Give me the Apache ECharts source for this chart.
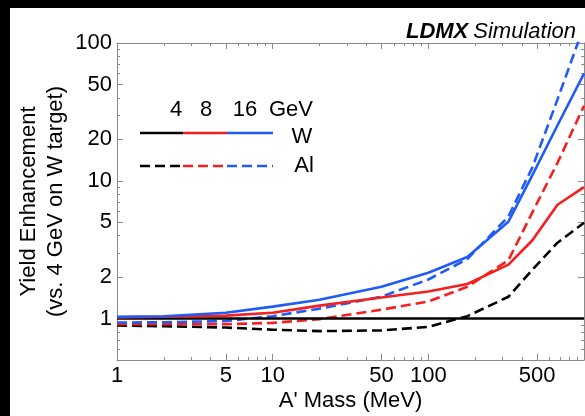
<!DOCTYPE html>
<html>
<head>
<meta charset="utf-8">
<script src="https://cdn.jsdelivr.net/npm/echarts@6/dist/echarts.min.js"></script>
<style>
  html, body { margin: 0; padding: 0; background: #000; width: 585px; height: 416px; overflow: hidden; }
  #chart { position: absolute; left: 10px; top: 8px; width: 575px; height: 408px; background: #fff; }
</style>
</head>
<body>
<div id="chart"></div>
<script>
// ---- data (A' mass in MeV, yield enhancement) ----
const masses   = [1, 2, 5, 10, 20, 50, 100, 178, 327, 466, 676, 1000];
const w4GeV    = [1, 1, 1, 1, 1, 1, 1, 1, 1, 1, 1, 1];
const w8GeV    = [1.02, 1.03, 1.05, 1.10, 1.24, 1.42, 1.57, 1.78, 2.46, 3.7, 6.7, 9.0];
const w16GeV   = [1.03, 1.04, 1.10, 1.22, 1.37, 1.70, 2.15, 2.8, 5.05, 11.0, 25.3, 60];
const al4GeV   = [0.89, 0.88, 0.86, 0.83, 0.81, 0.82, 0.87, 1.04, 1.44, 2.26, 3.55, 4.96];
const al8GeV   = [0.91, 0.91, 0.91, 0.93, 0.99, 1.16, 1.33, 1.7, 2.65, 5.9, 13.5, 35];
const al16GeV  = [0.935, 0.94, 0.96, 1.04, 1.18, 1.44, 1.92, 2.7, 5.5, 12.5, 39, 133];

const xLabelValues = [1, 5, 10, 50, 100, 500];
const xMajorTicks  = [5, 10, 50, 100, 500];
const xMinorTicks  = [2, 3, 4, 6, 7, 8, 9, 20, 30, 40, 60, 70, 80, 90, 200, 300, 400, 600, 700, 800, 900];
const yLabelValues = [1, 2, 5, 10, 20, 50, 100];
const yMajorTicks  = [1, 2, 5, 10, 20, 50];
const yMinorTicks  = [0.6, 0.7, 0.8, 0.9, 3, 4, 6, 7, 8, 9, 30, 40, 60, 70, 80, 90];

const legendEnergies = ['4', '8', '16', 'GeV'];
const legendTargets  = ['W', 'Al'];

const BLACK = '#000000', RED = '#f41f1f', BLUE = '#1f5bf5';
const FONT = '"Liberation Sans", Arial, Helvetica, sans-serif';
const DASH = [10, 5];

function pairs(ys) { return masses.map((m, i) => [m, ys[i]]); }

const axisGray = '#8a8a8a';
function xAx(pos, ticks, len, main) {
  return {
    type: 'log', logBase: 10, min: 1, max: 1000, position: pos, gridIndex: 0,
    axisLine: { show: main, lineStyle: { color: axisGray, width: 1 } },
    axisTick: { show: true, inside: true, length: len, customValues: ticks, lineStyle: { color: axisGray, width: 1 } },
    axisLabel: (pos === 'bottom' && main) ? {
      show: true, customValues: xLabelValues, color: '#000', fontSize: 22, fontFamily: FONT, margin: 5,
      formatter: v => String(+(+v).toPrecision(3))
    } : { show: false },
    splitLine: { show: false }, minorTick: { show: false },
    name: (pos === 'bottom' && main) ? "A' Mass (MeV)" : '',
    nameLocation: 'middle', nameGap: 28, nameMoveOverlap: false,
    nameTextStyle: { color: '#000', fontSize: 22, fontFamily: FONT, lineHeight: 26 }
  };
}
function yAx(pos, ticks, len, main) {
  return {
    type: 'log', logBase: 10, min: 0.5, max: 100, position: pos, gridIndex: 0,
    axisLine: { show: main, lineStyle: { color: axisGray, width: 1 } },
    axisTick: { show: true, inside: true, length: len, customValues: ticks, lineStyle: { color: axisGray, width: 1 } },
    axisLabel: (pos === 'left' && main) ? {
      show: true, customValues: yLabelValues, color: '#000', fontSize: 22, fontFamily: FONT, margin: 5,
      formatter: v => String(+(+v).toPrecision(3))
    } : { show: false },
    splitLine: { show: false }, minorTick: { show: false },
    name: (pos === 'left' && main) ? 'Yield Enhancement\n(vs. 4 GeV on W target)' : '',
    nameLocation: 'middle', nameGap: 48, nameRotate: 90, nameMoveOverlap: false,
    nameTextStyle: { color: '#000', fontSize: 22, fontFamily: FONT, lineHeight: 27 }
  };
}

function line(name, ys, color, dashed) {
  return {
    name: name, type: 'line', data: pairs(ys), xAxisIndex: 0, yAxisIndex: 0,
    showSymbol: false, symbol: 'none', smooth: false, clip: true, z: dashed ? 3 : 4,
    lineStyle: { color: color, width: 2.6, type: dashed ? DASH : 'solid' },
    emphasis: { disabled: true }
  };
}

const OX = 10, OY = 8; // chart div offset on the page
function seg(x1, x2, y, color, dashed) {
  return { type: 'line', shape: { x1: x1 - OX, y1: y - OY, x2: x2 - OX, y2: y - OY },
           style: { stroke: color, lineWidth: 2.6, lineDash: dashed ? DASH : null }, z: 10 };
}
function txt(s, cx, cy) {
  return { type: 'text', x: cx - OX, y: cy - OY, z: 10,
           style: { text: s, fill: '#000', font: '22px ' + FONT, align: 'center', verticalAlign: 'middle' } };
}

const chart = echarts.init(document.getElementById('chart'), null, { renderer: 'canvas' });
chart.setOption({
  animation: false,
  backgroundColor: '#fff',
  title: {
    text: '{b|LDMX} {i|Simulation}', right: 4, top: 8,
    textStyle: { fontWeight: 'normal', rich: {
      b: { fontWeight: 'bold', fontStyle: 'italic', fontSize: 22, fontFamily: FONT, color: '#000' },
      i: { fontWeight: 'normal', fontStyle: 'italic', fontSize: 22, fontFamily: FONT, color: '#000' }
    } }
  },
  grid: { left: 107, top: 35, width: 467, height: 317, containLabel: false, outerBoundsMode: 'none' },
  xAxis: [
    xAx('bottom', xMajorTicks, 6, true),
    xAx('top', xMajorTicks, 6, true),
    xAx('bottom', xMinorTicks, 3, false),
    xAx('top', xMinorTicks, 3, false)
  ],
  yAxis: [
    yAx('left', yMajorTicks, 6, true),
    yAx('right', yMajorTicks, 6, true),
    yAx('left', yMinorTicks, 3, false),
    yAx('right', yMinorTicks, 3, false)
  ],
  series: [
    line('Al 4 GeV', al4GeV, BLACK, true),
    line('Al 8 GeV', al8GeV, RED, true),
    line('Al 16 GeV', al16GeV, BLUE, true),
    line('W 4 GeV', w4GeV, BLACK, false),
    line('W 8 GeV', w8GeV, RED, false),
    line('W 16 GeV', w16GeV, BLUE, false)
  ],
  graphic: [
    txt(legendEnergies[0], 176, 110),
    txt(legendEnergies[1], 206, 110),
    txt(legendEnergies[2], 245, 110),
    txt(legendEnergies[3], 291, 110),
    txt(legendTargets[0], 302, 137),
    txt(legendTargets[1], 304, 166),
    seg(140, 183, 133, BLACK, false),
    seg(183, 227, 133, RED, false),
    seg(227, 273, 133, BLUE, false),
    seg(140, 183, 166, BLACK, true),
    seg(183, 227, 166, RED, true),
    seg(227, 273, 166, BLUE, true)
  ]
});
</script>
</body>
</html>
